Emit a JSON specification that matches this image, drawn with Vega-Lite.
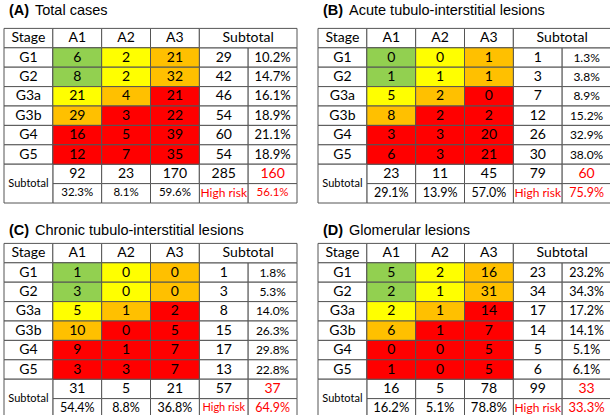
{
"$schema": "https://vega.github.io/schema/vega-lite/v6.json",
"padding": {"left": 3, "top": 2, "right": 0, "bottom": 0},
"background": "#ffffff",
"config": {"view": {"stroke": null}},
"datasets": {
"titles": [
{"p": "A", "tag": "(A)", "name": "Total cases"},
{"p": "B", "tag": "(B)", "name": "Acute tubulo-interstitial lesions"},
{"p": "C", "tag": "(C)", "name": "Chronic tubulo-interstitial lesions"},
{"p": "D", "tag": "(D)", "name": "Glomerular lesions"}
],
"labels": [
{"row": "H", "col": "Stage", "t": "Stage"},
{"row": "H", "col": "A1", "t": "A1"},
{"row": "H", "col": "A2", "t": "A2"},
{"row": "H", "col": "A3", "t": "A3"},
{"row": "H", "col": "Sub", "t": "Subtotal"},
{"row": "G1", "col": "Stage", "t": "G1"},
{"row": "G2", "col": "Stage", "t": "G2"},
{"row": "G3a", "col": "Stage", "t": "G3a"},
{"row": "G3b", "col": "Stage", "t": "G3b"},
{"row": "G4", "col": "Stage", "t": "G4"},
{"row": "G5", "col": "Stage", "t": "G5"},
{"row": "SN", "col": "Stage", "t": "Subtotal"},
{"row": "SP", "col": "Sub", "t": "High risk"}
],
"risk": [
{"row": "G1", "col": "A1", "risk": "low"},
{"row": "G1", "col": "A2", "risk": "moderate"},
{"row": "G1", "col": "A3", "risk": "high"},
{"row": "G2", "col": "A1", "risk": "low"},
{"row": "G2", "col": "A2", "risk": "moderate"},
{"row": "G2", "col": "A3", "risk": "high"},
{"row": "G3a", "col": "A1", "risk": "moderate"},
{"row": "G3a", "col": "A2", "risk": "high"},
{"row": "G3a", "col": "A3", "risk": "very high"},
{"row": "G3b", "col": "A1", "risk": "high"},
{"row": "G3b", "col": "A2", "risk": "very high"},
{"row": "G3b", "col": "A3", "risk": "very high"},
{"row": "G4", "col": "A1", "risk": "very high"},
{"row": "G4", "col": "A2", "risk": "very high"},
{"row": "G4", "col": "A3", "risk": "very high"},
{"row": "G5", "col": "A1", "risk": "very high"},
{"row": "G5", "col": "A2", "risk": "very high"},
{"row": "G5", "col": "A3", "risk": "very high"}
],
"cells": [
{"p":"A","row":"G1","col":"A1","n":6},{"p":"A","row":"G1","col":"A2","n":2},{"p":"A","row":"G1","col":"A3","n":21},{"p":"A","row":"G1","col":"Sub","n":29},{"p":"A","row":"G1","col":"Pct","f":0.102},
{"p":"A","row":"G2","col":"A1","n":8},{"p":"A","row":"G2","col":"A2","n":2},{"p":"A","row":"G2","col":"A3","n":32},{"p":"A","row":"G2","col":"Sub","n":42},{"p":"A","row":"G2","col":"Pct","f":0.147},
{"p":"A","row":"G3a","col":"A1","n":21},{"p":"A","row":"G3a","col":"A2","n":4},{"p":"A","row":"G3a","col":"A3","n":21},{"p":"A","row":"G3a","col":"Sub","n":46},{"p":"A","row":"G3a","col":"Pct","f":0.161},
{"p":"A","row":"G3b","col":"A1","n":29},{"p":"A","row":"G3b","col":"A2","n":3},{"p":"A","row":"G3b","col":"A3","n":22},{"p":"A","row":"G3b","col":"Sub","n":54},{"p":"A","row":"G3b","col":"Pct","f":0.189},
{"p":"A","row":"G4","col":"A1","n":16},{"p":"A","row":"G4","col":"A2","n":5},{"p":"A","row":"G4","col":"A3","n":39},{"p":"A","row":"G4","col":"Sub","n":60},{"p":"A","row":"G4","col":"Pct","f":0.211},
{"p":"A","row":"G5","col":"A1","n":12},{"p":"A","row":"G5","col":"A2","n":7},{"p":"A","row":"G5","col":"A3","n":35},{"p":"A","row":"G5","col":"Sub","n":54},{"p":"A","row":"G5","col":"Pct","f":0.189},
{"p":"A","row":"SN","col":"A1","n":92},{"p":"A","row":"SN","col":"A2","n":23},{"p":"A","row":"SN","col":"A3","n":170},{"p":"A","row":"SN","col":"Sub","n":285},{"p":"A","row":"SN","col":"Pct","n":160},
{"p":"A","row":"SP","col":"A1","f":0.323},{"p":"A","row":"SP","col":"A2","f":0.081},{"p":"A","row":"SP","col":"A3","f":0.596},{"p":"A","row":"SP","col":"Pct","f":0.561},
{"p":"B","row":"G1","col":"A1","n":0},{"p":"B","row":"G1","col":"A2","n":0},{"p":"B","row":"G1","col":"A3","n":1},{"p":"B","row":"G1","col":"Sub","n":1},{"p":"B","row":"G1","col":"Pct","f":0.013},
{"p":"B","row":"G2","col":"A1","n":1},{"p":"B","row":"G2","col":"A2","n":1},{"p":"B","row":"G2","col":"A3","n":1},{"p":"B","row":"G2","col":"Sub","n":3},{"p":"B","row":"G2","col":"Pct","f":0.038},
{"p":"B","row":"G3a","col":"A1","n":5},{"p":"B","row":"G3a","col":"A2","n":2},{"p":"B","row":"G3a","col":"A3","n":0},{"p":"B","row":"G3a","col":"Sub","n":7},{"p":"B","row":"G3a","col":"Pct","f":0.089},
{"p":"B","row":"G3b","col":"A1","n":8},{"p":"B","row":"G3b","col":"A2","n":2},{"p":"B","row":"G3b","col":"A3","n":2},{"p":"B","row":"G3b","col":"Sub","n":12},{"p":"B","row":"G3b","col":"Pct","f":0.152},
{"p":"B","row":"G4","col":"A1","n":3},{"p":"B","row":"G4","col":"A2","n":3},{"p":"B","row":"G4","col":"A3","n":20},{"p":"B","row":"G4","col":"Sub","n":26},{"p":"B","row":"G4","col":"Pct","f":0.329},
{"p":"B","row":"G5","col":"A1","n":6},{"p":"B","row":"G5","col":"A2","n":3},{"p":"B","row":"G5","col":"A3","n":21},{"p":"B","row":"G5","col":"Sub","n":30},{"p":"B","row":"G5","col":"Pct","f":0.380},
{"p":"B","row":"SN","col":"A1","n":23},{"p":"B","row":"SN","col":"A2","n":11},{"p":"B","row":"SN","col":"A3","n":45},{"p":"B","row":"SN","col":"Sub","n":79},{"p":"B","row":"SN","col":"Pct","n":60},
{"p":"B","row":"SP","col":"A1","f":0.291},{"p":"B","row":"SP","col":"A2","f":0.139},{"p":"B","row":"SP","col":"A3","f":0.570},{"p":"B","row":"SP","col":"Pct","f":0.759},
{"p":"C","row":"G1","col":"A1","n":1},{"p":"C","row":"G1","col":"A2","n":0},{"p":"C","row":"G1","col":"A3","n":0},{"p":"C","row":"G1","col":"Sub","n":1},{"p":"C","row":"G1","col":"Pct","f":0.018},
{"p":"C","row":"G2","col":"A1","n":3},{"p":"C","row":"G2","col":"A2","n":0},{"p":"C","row":"G2","col":"A3","n":0},{"p":"C","row":"G2","col":"Sub","n":3},{"p":"C","row":"G2","col":"Pct","f":0.053},
{"p":"C","row":"G3a","col":"A1","n":5},{"p":"C","row":"G3a","col":"A2","n":1},{"p":"C","row":"G3a","col":"A3","n":2},{"p":"C","row":"G3a","col":"Sub","n":8},{"p":"C","row":"G3a","col":"Pct","f":0.140},
{"p":"C","row":"G3b","col":"A1","n":10},{"p":"C","row":"G3b","col":"A2","n":0},{"p":"C","row":"G3b","col":"A3","n":5},{"p":"C","row":"G3b","col":"Sub","n":15},{"p":"C","row":"G3b","col":"Pct","f":0.263},
{"p":"C","row":"G4","col":"A1","n":9},{"p":"C","row":"G4","col":"A2","n":1},{"p":"C","row":"G4","col":"A3","n":7},{"p":"C","row":"G4","col":"Sub","n":17},{"p":"C","row":"G4","col":"Pct","f":0.298},
{"p":"C","row":"G5","col":"A1","n":3},{"p":"C","row":"G5","col":"A2","n":3},{"p":"C","row":"G5","col":"A3","n":7},{"p":"C","row":"G5","col":"Sub","n":13},{"p":"C","row":"G5","col":"Pct","f":0.228},
{"p":"C","row":"SN","col":"A1","n":31},{"p":"C","row":"SN","col":"A2","n":5},{"p":"C","row":"SN","col":"A3","n":21},{"p":"C","row":"SN","col":"Sub","n":57},{"p":"C","row":"SN","col":"Pct","n":37},
{"p":"C","row":"SP","col":"A1","f":0.544},{"p":"C","row":"SP","col":"A2","f":0.088},{"p":"C","row":"SP","col":"A3","f":0.368},{"p":"C","row":"SP","col":"Pct","f":0.649},
{"p":"D","row":"G1","col":"A1","n":5},{"p":"D","row":"G1","col":"A2","n":2},{"p":"D","row":"G1","col":"A3","n":16},{"p":"D","row":"G1","col":"Sub","n":23},{"p":"D","row":"G1","col":"Pct","f":0.232},
{"p":"D","row":"G2","col":"A1","n":2},{"p":"D","row":"G2","col":"A2","n":1},{"p":"D","row":"G2","col":"A3","n":31},{"p":"D","row":"G2","col":"Sub","n":34},{"p":"D","row":"G2","col":"Pct","f":0.343},
{"p":"D","row":"G3a","col":"A1","n":2},{"p":"D","row":"G3a","col":"A2","n":1},{"p":"D","row":"G3a","col":"A3","n":14},{"p":"D","row":"G3a","col":"Sub","n":17},{"p":"D","row":"G3a","col":"Pct","f":0.172},
{"p":"D","row":"G3b","col":"A1","n":6},{"p":"D","row":"G3b","col":"A2","n":1},{"p":"D","row":"G3b","col":"A3","n":7},{"p":"D","row":"G3b","col":"Sub","n":14},{"p":"D","row":"G3b","col":"Pct","f":0.141},
{"p":"D","row":"G4","col":"A1","n":0},{"p":"D","row":"G4","col":"A2","n":0},{"p":"D","row":"G4","col":"A3","n":5},{"p":"D","row":"G4","col":"Sub","n":5},{"p":"D","row":"G4","col":"Pct","f":0.051},
{"p":"D","row":"G5","col":"A1","n":1},{"p":"D","row":"G5","col":"A2","n":0},{"p":"D","row":"G5","col":"A3","n":5},{"p":"D","row":"G5","col":"Sub","n":6},{"p":"D","row":"G5","col":"Pct","f":0.061},
{"p":"D","row":"SN","col":"A1","n":16},{"p":"D","row":"SN","col":"A2","n":5},{"p":"D","row":"SN","col":"A3","n":78},{"p":"D","row":"SN","col":"Sub","n":99},{"p":"D","row":"SN","col":"Pct","n":33},
{"p":"D","row":"SP","col":"A1","f":0.162},{"p":"D","row":"SP","col":"A2","f":0.051},{"p":"D","row":"SP","col":"A3","f":0.788},{"p":"D","row":"SP","col":"Pct","f":0.333}
]
},
"vconcat": [
{"hconcat": [
{"width": 293, "height": 194,
"encoding": {
"x": {"field": "col", "type": "nominal", "scale": {"domain": ["Stage","A1","A2","A3","Sub","Pct"], "paddingInner": 0, "paddingOuter": 0}, "axis": null},
"y": {"field": "row", "type": "nominal", "scale": {"domain": ["T","H","G1","G2","G3a","G3b","G4","G5","SN","SP"], "paddingInner": 0, "paddingOuter": 0}, "axis": null}
},
"layer": [
{"data": {"name": "labels"}, "transform": [{"filter": "!(datum.row=='H'&&datum.col=='Sub')&&!(datum.row=='SN'&&datum.col=='Stage')"}], "mark": {"type": "rect", "fill": "#ffffff", "stroke": "#555555", "strokeWidth": 1}},
{"data": {"name": "cells"}, "transform": [{"filter": "datum.p=='A'"}], "mark": {"type": "rect", "fill": "#ffffff", "stroke": "#555555", "strokeWidth": 1}},
{"data": {"name": "risk"}, "mark": {"type": "rect", "stroke": "#555555", "strokeWidth": 1}, "encoding": {"fill": {"field": "risk", "type": "nominal", "scale": {"domain": ["low","moderate","high","very high"], "range": ["#92D050","#FFFF00","#FFC000","#FF0000"]}, "legend": null}}},
{"data": {"name": "labels"}, "transform": [{"filter": "datum.row=='H'&&datum.col=='Sub'"}], "mark": {"type": "rect", "fill": "#ffffff", "stroke": "#555555", "strokeWidth": 1}, "encoding": {"x": {"field": "col", "type": "nominal", "bandPosition": 0, "scale": {"domain": ["Stage","A1","A2","A3","Sub","Pct"], "paddingInner": 0, "paddingOuter": 0}, "axis": null}, "x2": {"datum": "Pct", "bandPosition": 1}}},
{"data": {"name": "labels"}, "transform": [{"filter": "datum.row=='SN'&&datum.col=='Stage'"}], "mark": {"type": "rect", "fill": "#ffffff", "stroke": "#555555", "strokeWidth": 1}, "encoding": {"y": {"field": "row", "type": "nominal", "bandPosition": 0, "scale": {"domain": ["T","H","G1","G2","G3a","G3b","G4","G5","SN","SP"], "paddingInner": 0, "paddingOuter": 0}, "axis": null}, "y2": {"datum": "SP", "bandPosition": 1}}},
{"data": {"name": "labels"}, "transform": [{"filter": "datum.t!='High risk'&&!(datum.row=='H'&&datum.col=='Sub')&&!(datum.row=='SN'&&datum.col=='Stage')"}], "mark": {"type": "text", "font": "Lato", "fontSize": 14, "color": "#000000"}, "encoding": {"text": {"field": "t", "type": "nominal"}}},
{"data": {"name": "labels"}, "transform": [{"filter": "datum.row=='H'&&datum.col=='Sub'"}], "mark": {"type": "text", "font": "Lato", "fontSize": 14, "color": "#000000"}, "encoding": {"x": {"field": "col", "type": "nominal", "bandPosition": 1, "scale": {"domain": ["Stage","A1","A2","A3","Sub","Pct"], "paddingInner": 0, "paddingOuter": 0}, "axis": null}, "text": {"field": "t", "type": "nominal"}}},
{"data": {"name": "labels"}, "transform": [{"filter": "datum.row=='SN'&&datum.col=='Stage'"}], "mark": {"type": "text", "font": "Lato", "fontSize": 11, "color": "#000000"}, "encoding": {"y": {"field": "row", "type": "nominal", "bandPosition": 1, "scale": {"domain": ["T","H","G1","G2","G3a","G3b","G4","G5","SN","SP"], "paddingInner": 0, "paddingOuter": 0}, "axis": null}, "text": {"field": "t", "type": "nominal"}}},
{"data": {"name": "labels"}, "transform": [{"filter": "datum.t=='High risk'"}], "mark": {"type": "text", "font": "Lato", "fontSize": 12, "color": "#ff0000"}, "encoding": {"text": {"field": "t", "type": "nominal"}}},
{"data": {"name": "cells"}, "transform": [{"filter": "datum.p=='A'&&datum.n!=null"}], "mark": {"type": "text", "font": "Lato", "fontSize": 14}, "encoding": {"text": {"field": "n", "type": "quantitative"}, "color": {"condition": {"test": "datum.row=='SN'&&datum.col=='Pct'", "value": "#ff0000"}, "value": "#000000"}}},
{"data": {"name": "cells"}, "transform": [{"filter": "datum.p=='A'&&datum.f!=null&&datum.row!='SP'"}], "mark": {"type": "text", "font": "Lato", "fontSize": 13, "color": "#000000"}, "encoding": {"text": {"field": "f", "type": "quantitative", "format": ".1%"}}},
{"data": {"name": "cells"}, "transform": [{"filter": "datum.p=='A'&&datum.row=='SP'"}], "mark": {"type": "text", "font": "Lato", "fontSize": 11.5}, "encoding": {"text": {"field": "f", "type": "quantitative", "format": ".1%"}, "color": {"condition": {"test": "datum.col=='Pct'", "value": "#ff0000"}, "value": "#000000"}}},
{"data": {"name": "titles"}, "transform": [{"filter": "datum.p=='A'"}], "mark": {"type": "text", "font": "Liberation Sans", "fontSize": 14.5, "fontWeight": "bold", "align": "left", "dx": 5, "dy": -8, "color": "#000000"}, "encoding": {"x": {"datum": "Stage", "type": "nominal", "bandPosition": 0}, "y": {"datum": "T", "type": "nominal"}, "text": {"field": "tag", "type": "nominal"}}},
{"data": {"name": "titles"}, "transform": [{"filter": "datum.p=='A'"}], "mark": {"type": "text", "font": "Liberation Sans", "fontSize": 14.5, "align": "left", "dx": 31, "dy": -8, "color": "#000000"}, "encoding": {"x": {"datum": "Stage", "type": "nominal", "bandPosition": 0}, "y": {"datum": "T", "type": "nominal"}, "text": {"field": "name", "type": "nominal"}}}
]},
{"width": 293, "height": 194,
"encoding": {
"x": {"field": "col", "type": "nominal", "scale": {"domain": ["Stage","A1","A2","A3","Sub","Pct"], "paddingInner": 0, "paddingOuter": 0}, "axis": null},
"y": {"field": "row", "type": "nominal", "scale": {"domain": ["T","H","G1","G2","G3a","G3b","G4","G5","SN","SP"], "paddingInner": 0, "paddingOuter": 0}, "axis": null}
},
"layer": [
{"data": {"name": "labels"}, "transform": [{"filter": "!(datum.row=='H'&&datum.col=='Sub')&&!(datum.row=='SN'&&datum.col=='Stage')"}], "mark": {"type": "rect", "fill": "#ffffff", "stroke": "#555555", "strokeWidth": 1}},
{"data": {"name": "cells"}, "transform": [{"filter": "datum.p=='B'"}], "mark": {"type": "rect", "fill": "#ffffff", "stroke": "#555555", "strokeWidth": 1}},
{"data": {"name": "risk"}, "mark": {"type": "rect", "stroke": "#555555", "strokeWidth": 1}, "encoding": {"fill": {"field": "risk", "type": "nominal", "scale": {"domain": ["low","moderate","high","very high"], "range": ["#92D050","#FFFF00","#FFC000","#FF0000"]}, "legend": null}}},
{"data": {"name": "labels"}, "transform": [{"filter": "datum.row=='H'&&datum.col=='Sub'"}], "mark": {"type": "rect", "fill": "#ffffff", "stroke": "#555555", "strokeWidth": 1}, "encoding": {"x": {"field": "col", "type": "nominal", "bandPosition": 0, "scale": {"domain": ["Stage","A1","A2","A3","Sub","Pct"], "paddingInner": 0, "paddingOuter": 0}, "axis": null}, "x2": {"datum": "Pct", "bandPosition": 1}}},
{"data": {"name": "labels"}, "transform": [{"filter": "datum.row=='SN'&&datum.col=='Stage'"}], "mark": {"type": "rect", "fill": "#ffffff", "stroke": "#555555", "strokeWidth": 1}, "encoding": {"y": {"field": "row", "type": "nominal", "bandPosition": 0, "scale": {"domain": ["T","H","G1","G2","G3a","G3b","G4","G5","SN","SP"], "paddingInner": 0, "paddingOuter": 0}, "axis": null}, "y2": {"datum": "SP", "bandPosition": 1}}},
{"data": {"name": "labels"}, "transform": [{"filter": "datum.t!='High risk'&&!(datum.row=='H'&&datum.col=='Sub')&&!(datum.row=='SN'&&datum.col=='Stage')"}], "mark": {"type": "text", "font": "Lato", "fontSize": 14, "color": "#000000"}, "encoding": {"text": {"field": "t", "type": "nominal"}}},
{"data": {"name": "labels"}, "transform": [{"filter": "datum.row=='H'&&datum.col=='Sub'"}], "mark": {"type": "text", "font": "Lato", "fontSize": 14, "color": "#000000"}, "encoding": {"x": {"field": "col", "type": "nominal", "bandPosition": 1, "scale": {"domain": ["Stage","A1","A2","A3","Sub","Pct"], "paddingInner": 0, "paddingOuter": 0}, "axis": null}, "text": {"field": "t", "type": "nominal"}}},
{"data": {"name": "labels"}, "transform": [{"filter": "datum.row=='SN'&&datum.col=='Stage'"}], "mark": {"type": "text", "font": "Lato", "fontSize": 11, "color": "#000000"}, "encoding": {"y": {"field": "row", "type": "nominal", "bandPosition": 1, "scale": {"domain": ["T","H","G1","G2","G3a","G3b","G4","G5","SN","SP"], "paddingInner": 0, "paddingOuter": 0}, "axis": null}, "text": {"field": "t", "type": "nominal"}}},
{"data": {"name": "labels"}, "transform": [{"filter": "datum.t=='High risk'"}], "mark": {"type": "text", "font": "Lato", "fontSize": 12, "color": "#ff0000"}, "encoding": {"text": {"field": "t", "type": "nominal"}}},
{"data": {"name": "cells"}, "transform": [{"filter": "datum.p=='B'&&datum.n!=null"}], "mark": {"type": "text", "font": "Lato", "fontSize": 14}, "encoding": {"text": {"field": "n", "type": "quantitative"}, "color": {"condition": {"test": "datum.row=='SN'&&datum.col=='Pct'", "value": "#ff0000"}, "value": "#000000"}}},
{"data": {"name": "cells"}, "transform": [{"filter": "datum.p=='B'&&datum.f!=null&&datum.row!='SP'"}], "mark": {"type": "text", "font": "Lato", "fontSize": 12, "color": "#000000"}, "encoding": {"text": {"field": "f", "type": "quantitative", "format": ".1%"}}},
{"data": {"name": "cells"}, "transform": [{"filter": "datum.p=='B'&&datum.row=='SP'"}], "mark": {"type": "text", "font": "Lato", "fontSize": 12.5}, "encoding": {"text": {"field": "f", "type": "quantitative", "format": ".1%"}, "color": {"condition": {"test": "datum.col=='Pct'", "value": "#ff0000"}, "value": "#000000"}}},
{"data": {"name": "titles"}, "transform": [{"filter": "datum.p=='B'"}], "mark": {"type": "text", "font": "Liberation Sans", "fontSize": 14.5, "fontWeight": "bold", "align": "left", "dx": 5, "dy": -8, "color": "#000000"}, "encoding": {"x": {"datum": "Stage", "type": "nominal", "bandPosition": 0}, "y": {"datum": "T", "type": "nominal"}, "text": {"field": "tag", "type": "nominal"}}},
{"data": {"name": "titles"}, "transform": [{"filter": "datum.p=='B'"}], "mark": {"type": "text", "font": "Liberation Sans", "fontSize": 14.5, "align": "left", "dx": 31, "dy": -8, "color": "#000000"}, "encoding": {"x": {"datum": "Stage", "type": "nominal", "bandPosition": 0}, "y": {"datum": "T", "type": "nominal"}, "text": {"field": "name", "type": "nominal"}}}
]}
], "spacing": 19},
{"hconcat": [
{"width": 293, "height": 194,
"encoding": {
"x": {"field": "col", "type": "nominal", "scale": {"domain": ["Stage","A1","A2","A3","Sub","Pct"], "paddingInner": 0, "paddingOuter": 0}, "axis": null},
"y": {"field": "row", "type": "nominal", "scale": {"domain": ["T","H","G1","G2","G3a","G3b","G4","G5","SN","SP"], "paddingInner": 0, "paddingOuter": 0}, "axis": null}
},
"layer": [
{"data": {"name": "labels"}, "transform": [{"filter": "!(datum.row=='H'&&datum.col=='Sub')&&!(datum.row=='SN'&&datum.col=='Stage')"}], "mark": {"type": "rect", "fill": "#ffffff", "stroke": "#555555", "strokeWidth": 1}},
{"data": {"name": "cells"}, "transform": [{"filter": "datum.p=='C'"}], "mark": {"type": "rect", "fill": "#ffffff", "stroke": "#555555", "strokeWidth": 1}},
{"data": {"name": "risk"}, "mark": {"type": "rect", "stroke": "#555555", "strokeWidth": 1}, "encoding": {"fill": {"field": "risk", "type": "nominal", "scale": {"domain": ["low","moderate","high","very high"], "range": ["#92D050","#FFFF00","#FFC000","#FF0000"]}, "legend": null}}},
{"data": {"name": "labels"}, "transform": [{"filter": "datum.row=='H'&&datum.col=='Sub'"}], "mark": {"type": "rect", "fill": "#ffffff", "stroke": "#555555", "strokeWidth": 1}, "encoding": {"x": {"field": "col", "type": "nominal", "bandPosition": 0, "scale": {"domain": ["Stage","A1","A2","A3","Sub","Pct"], "paddingInner": 0, "paddingOuter": 0}, "axis": null}, "x2": {"datum": "Pct", "bandPosition": 1}}},
{"data": {"name": "labels"}, "transform": [{"filter": "datum.row=='SN'&&datum.col=='Stage'"}], "mark": {"type": "rect", "fill": "#ffffff", "stroke": "#555555", "strokeWidth": 1}, "encoding": {"y": {"field": "row", "type": "nominal", "bandPosition": 0, "scale": {"domain": ["T","H","G1","G2","G3a","G3b","G4","G5","SN","SP"], "paddingInner": 0, "paddingOuter": 0}, "axis": null}, "y2": {"datum": "SP", "bandPosition": 1}}},
{"data": {"name": "labels"}, "transform": [{"filter": "datum.t!='High risk'&&!(datum.row=='H'&&datum.col=='Sub')&&!(datum.row=='SN'&&datum.col=='Stage')"}], "mark": {"type": "text", "font": "Lato", "fontSize": 14, "color": "#000000"}, "encoding": {"text": {"field": "t", "type": "nominal"}}},
{"data": {"name": "labels"}, "transform": [{"filter": "datum.row=='H'&&datum.col=='Sub'"}], "mark": {"type": "text", "font": "Lato", "fontSize": 14, "color": "#000000"}, "encoding": {"x": {"field": "col", "type": "nominal", "bandPosition": 1, "scale": {"domain": ["Stage","A1","A2","A3","Sub","Pct"], "paddingInner": 0, "paddingOuter": 0}, "axis": null}, "text": {"field": "t", "type": "nominal"}}},
{"data": {"name": "labels"}, "transform": [{"filter": "datum.row=='SN'&&datum.col=='Stage'"}], "mark": {"type": "text", "font": "Lato", "fontSize": 11, "color": "#000000"}, "encoding": {"y": {"field": "row", "type": "nominal", "bandPosition": 1, "scale": {"domain": ["T","H","G1","G2","G3a","G3b","G4","G5","SN","SP"], "paddingInner": 0, "paddingOuter": 0}, "axis": null}, "text": {"field": "t", "type": "nominal"}}},
{"data": {"name": "labels"}, "transform": [{"filter": "datum.t=='High risk'"}], "mark": {"type": "text", "font": "Lato", "fontSize": 11, "color": "#ff0000"}, "encoding": {"text": {"field": "t", "type": "nominal"}}},
{"data": {"name": "cells"}, "transform": [{"filter": "datum.p=='C'&&datum.n!=null"}], "mark": {"type": "text", "font": "Lato", "fontSize": 14}, "encoding": {"text": {"field": "n", "type": "quantitative"}, "color": {"condition": {"test": "datum.row=='SN'&&datum.col=='Pct'", "value": "#ff0000"}, "value": "#000000"}}},
{"data": {"name": "cells"}, "transform": [{"filter": "datum.p=='C'&&datum.f!=null&&datum.row!='SP'"}], "mark": {"type": "text", "font": "Lato", "fontSize": 12, "color": "#000000"}, "encoding": {"text": {"field": "f", "type": "quantitative", "format": ".1%"}}},
{"data": {"name": "cells"}, "transform": [{"filter": "datum.p=='C'&&datum.row=='SP'"}], "mark": {"type": "text", "font": "Lato", "fontSize": 12.5}, "encoding": {"text": {"field": "f", "type": "quantitative", "format": ".1%"}, "color": {"condition": {"test": "datum.col=='Pct'", "value": "#ff0000"}, "value": "#000000"}}},
{"data": {"name": "titles"}, "transform": [{"filter": "datum.p=='C'"}], "mark": {"type": "text", "font": "Liberation Sans", "fontSize": 14.5, "fontWeight": "bold", "align": "left", "dx": 5, "dy": -3, "color": "#000000"}, "encoding": {"x": {"datum": "Stage", "type": "nominal", "bandPosition": 0}, "y": {"datum": "T", "type": "nominal"}, "text": {"field": "tag", "type": "nominal"}}},
{"data": {"name": "titles"}, "transform": [{"filter": "datum.p=='C'"}], "mark": {"type": "text", "font": "Liberation Sans", "fontSize": 14.5, "align": "left", "dx": 31, "dy": -3, "color": "#000000"}, "encoding": {"x": {"datum": "Stage", "type": "nominal", "bandPosition": 0}, "y": {"datum": "T", "type": "nominal"}, "text": {"field": "name", "type": "nominal"}}}
]},
{"width": 293, "height": 194,
"encoding": {
"x": {"field": "col", "type": "nominal", "scale": {"domain": ["Stage","A1","A2","A3","Sub","Pct"], "paddingInner": 0, "paddingOuter": 0}, "axis": null},
"y": {"field": "row", "type": "nominal", "scale": {"domain": ["T","H","G1","G2","G3a","G3b","G4","G5","SN","SP"], "paddingInner": 0, "paddingOuter": 0}, "axis": null}
},
"layer": [
{"data": {"name": "labels"}, "transform": [{"filter": "!(datum.row=='H'&&datum.col=='Sub')&&!(datum.row=='SN'&&datum.col=='Stage')"}], "mark": {"type": "rect", "fill": "#ffffff", "stroke": "#555555", "strokeWidth": 1}},
{"data": {"name": "cells"}, "transform": [{"filter": "datum.p=='D'"}], "mark": {"type": "rect", "fill": "#ffffff", "stroke": "#555555", "strokeWidth": 1}},
{"data": {"name": "risk"}, "mark": {"type": "rect", "stroke": "#555555", "strokeWidth": 1}, "encoding": {"fill": {"field": "risk", "type": "nominal", "scale": {"domain": ["low","moderate","high","very high"], "range": ["#92D050","#FFFF00","#FFC000","#FF0000"]}, "legend": null}}},
{"data": {"name": "labels"}, "transform": [{"filter": "datum.row=='H'&&datum.col=='Sub'"}], "mark": {"type": "rect", "fill": "#ffffff", "stroke": "#555555", "strokeWidth": 1}, "encoding": {"x": {"field": "col", "type": "nominal", "bandPosition": 0, "scale": {"domain": ["Stage","A1","A2","A3","Sub","Pct"], "paddingInner": 0, "paddingOuter": 0}, "axis": null}, "x2": {"datum": "Pct", "bandPosition": 1}}},
{"data": {"name": "labels"}, "transform": [{"filter": "datum.row=='SN'&&datum.col=='Stage'"}], "mark": {"type": "rect", "fill": "#ffffff", "stroke": "#555555", "strokeWidth": 1}, "encoding": {"y": {"field": "row", "type": "nominal", "bandPosition": 0, "scale": {"domain": ["T","H","G1","G2","G3a","G3b","G4","G5","SN","SP"], "paddingInner": 0, "paddingOuter": 0}, "axis": null}, "y2": {"datum": "SP", "bandPosition": 1}}},
{"data": {"name": "labels"}, "transform": [{"filter": "datum.t!='High risk'&&!(datum.row=='H'&&datum.col=='Sub')&&!(datum.row=='SN'&&datum.col=='Stage')"}], "mark": {"type": "text", "font": "Lato", "fontSize": 14, "color": "#000000"}, "encoding": {"text": {"field": "t", "type": "nominal"}}},
{"data": {"name": "labels"}, "transform": [{"filter": "datum.row=='H'&&datum.col=='Sub'"}], "mark": {"type": "text", "font": "Lato", "fontSize": 14, "color": "#000000"}, "encoding": {"x": {"field": "col", "type": "nominal", "bandPosition": 1, "scale": {"domain": ["Stage","A1","A2","A3","Sub","Pct"], "paddingInner": 0, "paddingOuter": 0}, "axis": null}, "text": {"field": "t", "type": "nominal"}}},
{"data": {"name": "labels"}, "transform": [{"filter": "datum.row=='SN'&&datum.col=='Stage'"}], "mark": {"type": "text", "font": "Lato", "fontSize": 11, "color": "#000000"}, "encoding": {"y": {"field": "row", "type": "nominal", "bandPosition": 1, "scale": {"domain": ["T","H","G1","G2","G3a","G3b","G4","G5","SN","SP"], "paddingInner": 0, "paddingOuter": 0}, "axis": null}, "text": {"field": "t", "type": "nominal"}}},
{"data": {"name": "labels"}, "transform": [{"filter": "datum.t=='High risk'"}], "mark": {"type": "text", "font": "Lato", "fontSize": 12, "color": "#ff0000"}, "encoding": {"text": {"field": "t", "type": "nominal"}}},
{"data": {"name": "cells"}, "transform": [{"filter": "datum.p=='D'&&datum.n!=null"}], "mark": {"type": "text", "font": "Lato", "fontSize": 14}, "encoding": {"text": {"field": "n", "type": "quantitative"}, "color": {"condition": {"test": "datum.row=='SN'&&datum.col=='Pct'", "value": "#ff0000"}, "value": "#000000"}}},
{"data": {"name": "cells"}, "transform": [{"filter": "datum.p=='D'&&datum.f!=null&&datum.row!='SP'"}], "mark": {"type": "text", "font": "Lato", "fontSize": 12.5, "color": "#000000"}, "encoding": {"text": {"field": "f", "type": "quantitative", "format": ".1%"}}},
{"data": {"name": "cells"}, "transform": [{"filter": "datum.p=='D'&&datum.row=='SP'"}], "mark": {"type": "text", "font": "Lato", "fontSize": 13}, "encoding": {"text": {"field": "f", "type": "quantitative", "format": ".1%"}, "color": {"condition": {"test": "datum.col=='Pct'", "value": "#ff0000"}, "value": "#000000"}}},
{"data": {"name": "titles"}, "transform": [{"filter": "datum.p=='D'"}], "mark": {"type": "text", "font": "Liberation Sans", "fontSize": 14.5, "fontWeight": "bold", "align": "left", "dx": 5, "dy": -3, "color": "#000000"}, "encoding": {"x": {"datum": "Stage", "type": "nominal", "bandPosition": 0}, "y": {"datum": "T", "type": "nominal"}, "text": {"field": "tag", "type": "nominal"}}},
{"data": {"name": "titles"}, "transform": [{"filter": "datum.p=='D'"}], "mark": {"type": "text", "font": "Liberation Sans", "fontSize": 14.5, "align": "left", "dx": 31, "dy": -3, "color": "#000000"}, "encoding": {"x": {"datum": "Stage", "type": "nominal", "bandPosition": 0}, "y": {"datum": "T", "type": "nominal"}, "text": {"field": "name", "type": "nominal"}}}
]}
], "spacing": 19}
],
"spacing": 18
}
